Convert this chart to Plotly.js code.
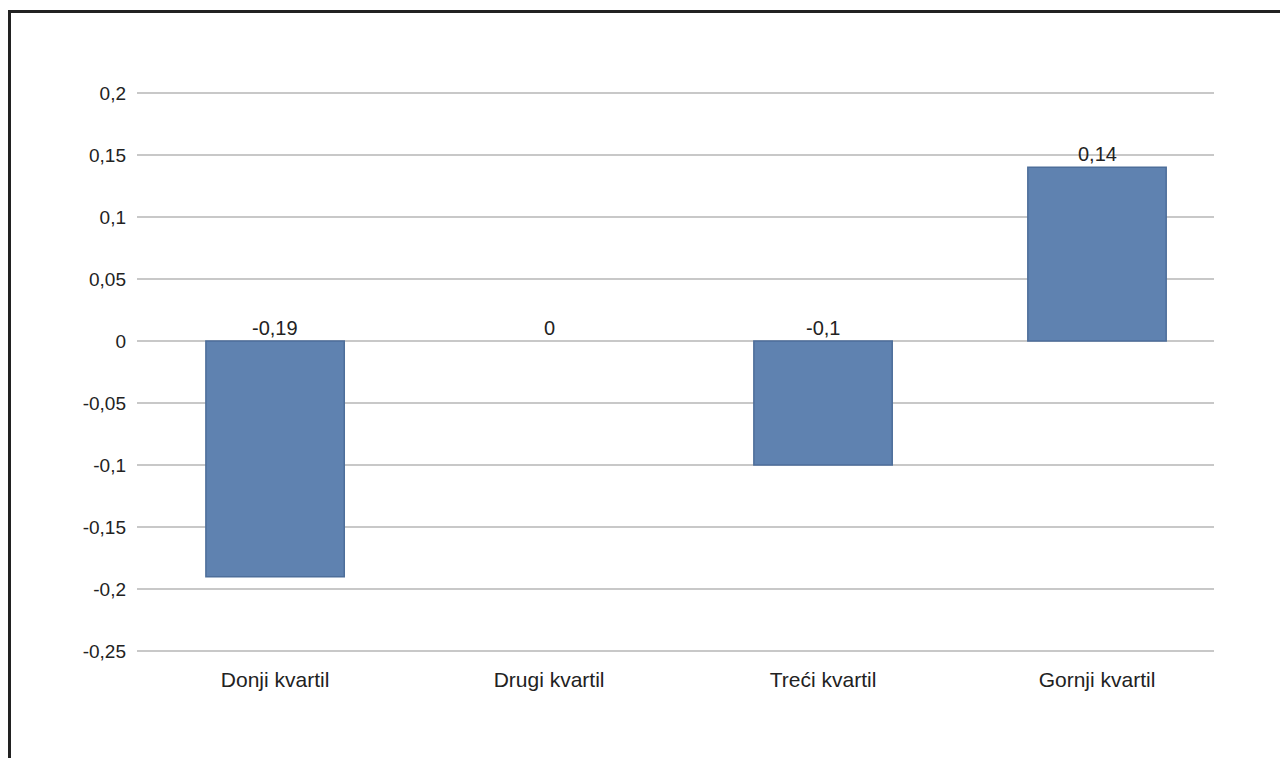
<!DOCTYPE html>
<html>
<head>
<meta charset="utf-8">
<script src="https://cdn.plot.ly/plotly-3.0.1.min.js"></script>
<style>
html,body{margin:0;padding:0;background:#fff;width:1280px;height:758px;overflow:hidden;}
#frame{position:absolute;left:8px;top:10px;width:1300px;height:800px;border-left:3px solid #222;border-top:3px solid #222;box-sizing:border-box;pointer-events:none;z-index:5;}
#chart{position:absolute;left:0;top:0;width:1280px;height:758px;}
</style>
</head>
<body>
<div id="chart"></div>
<div id="frame"></div>
<script>
const categories = ["Donji kvartil", "Drugi kvartil", "Treći kvartil", "Gornji kvartil"];
const values = [-0.19, 0, -0.1, 0.14];
const valueLabels = ["-0,19", "0", "-0,1", "0,14"];
const yTickVals = [0.2, 0.15, 0.1, 0.05, 0, -0.05, -0.1, -0.15, -0.2, -0.25];
const yTickText = ["0,2", "0,15", "0,1", "0,05", "0", "-0,05", "-0,1", "-0,15", "-0,2", "-0,25"];

const font = "'Liberation Sans', Arial, Helvetica, sans-serif";

const trace = {
  type: "bar",
  x: categories.map((c, i) => i),
  y: values,
  width: 0.505,
  marker: {color: "#5f82b0", line: {color: "#4d6e9a", width: values.map(v => v === 0 ? 0 : 1.5)}},
  hoverinfo: "skip"
};

const annotations = values.map((v, i) => ({
  x: i, y: Math.max(v, 0), xref: "x", yref: "y",
  text: valueLabels[i], showarrow: false, yanchor: "bottom", yshift: 0,
  font: {family: font, size: 20, color: "#222"}
}));

const layout = {
  width: 1280, height: 758,
  margin: {l: 137, r: 66, t: 88, b: 102},
  paper_bgcolor: "#fff", plot_bgcolor: "#fff",
  showlegend: false,
  bargap: 0,
  separators: ",.",
  xaxis: {
    range: [-0.504, 3.427],
    tickvals: [0, 1, 2, 3], ticktext: categories,
    showgrid: false, zeroline: false, showline: false,
    ticks: "", ticklabelstandoff: 9,
    tickfont: {family: font, size: 21, color: "#222"},
    fixedrange: true
  },
  yaxis: {
    range: [-0.254, 0.204],
    tickvals: yTickVals, ticktext: yTickText,
    showgrid: true, gridcolor: "#c8c8c8", gridwidth: 1.5,
    zeroline: false, showline: false,
    ticks: "", ticklabelstandoff: 10,
    tickfont: {family: font, size: 19, color: "#222"},
    fixedrange: true
  },
  annotations: annotations
};

Plotly.newPlot("chart", [trace], layout, {displayModeBar: false, staticPlot: true});
</script>
</body>
</html>
